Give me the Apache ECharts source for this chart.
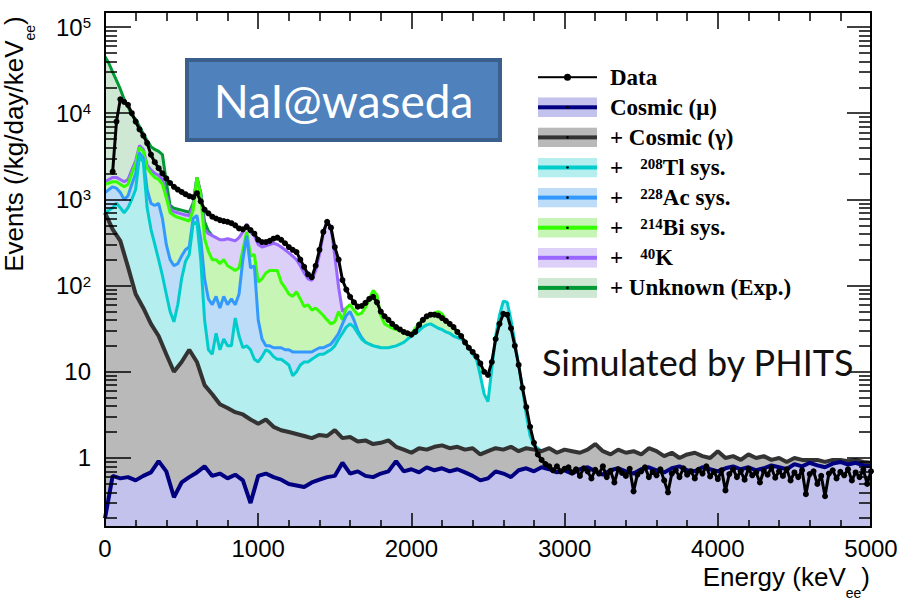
<!DOCTYPE html>
<html>
<head>
<meta charset="utf-8">
<title>NaI@waseda energy spectrum</title>
<script src="https://cdn.jsdelivr.net/npm/echarts@6.0.0/dist/echarts.min.js"></script>
<style>
html,body{margin:0;padding:0;background:#ffffff;}
#chart{width:899px;height:600px;}
</style>
</head>
<body>
<div id="chart"></div>
<script>
// ---------------- axes ----------------
const X_MIN = 0, X_MAX = 5000, X_INTERVAL = 1000;
const Y_MIN = 0.1583, Y_MAX = 149300;
const Y_MAJOR = [1, 10, 100, 1000, 10000, 100000];
const Y_MINOR = [0.2,0.3,0.4,0.5,0.6,0.7,0.8,0.9,
  2,3,4,5,6,7,8,9, 20,30,40,50,60,70,80,90,
  200,300,400,500,600,700,800,900, 2000,3000,4000,5000,6000,7000,8000,9000,
  20000,30000,40000,50000,60000,70000,80000,90000];

// ---------------- bins (keV) ----------------
const STEP_FINE = 25;     // bin width for data and the isotope stacks
const STEP_COARSE = 50;   // bin width for the cosmic stacks
const DATA_START = 50;

// ---------------- measured data (events /kg/day/keVee), 50..5000 keV step 25 ----------------
const dataVals = [
  2100,8000,14500,13500,12500,10000,8000,6500,5500,4500,3300,2700,
  2300,2000,1750,1550,1400,1300,1220,1150,1090,1060,1180,950,
  760,690,630,600,575,560,550,530,500,460,450,480,
  440,400,340,320,320,330,350,360,340,310,280,260,
  245,200,165,135,125,170,260,420,550,470,280,200,
  116,90,74,64,57,58,63,70,74,64,50,44,
  40,36,33,31,29,28,27,29,35,40,44,46,
  46,45,42,39,36,33,29,26,22,19,17,15,
  12.5,10,9.2,13,24,36,47,46,32,20,12,6.5,
  3.9,2.3,1.5,1.1,0.95,0.85,0.8,0.72,0.8,0.7,0.75,0.78,
  0.68,0.74,0.62,0.76,0.7,0.58,0.73,0.66,0.8,0.6,0.71,0.52,
  0.74,0.67,0.62,0.75,0.41,0.64,0.7,0.78,0.6,0.69,0.63,0.74,
  0.55,0.4,0.66,0.72,0.6,0.76,0.64,0.7,0.58,0.73,0.66,0.8,
  0.61,0.69,0.57,0.72,0.42,0.65,0.74,0.6,0.7,0.56,0.75,0.63,
  0.68,0.52,0.71,0.64,0.77,0.59,0.7,0.62,0.74,0.55,0.68,0.6,
  0.72,0.38,0.65,0.7,0.5,0.62,0.36,0.66,0.72,0.58,0.69,0.63,
  0.74,0.55,0.68,0.6,0.73,0.5,0.7
];

// ---------------- cumulative simulated stacks ----------------
// Cosmic (mu), 0..5000 keV step 50
const muSum = [
  0.2,0.62,0.58,0.6,0.55,0.62,0.68,0.92,0.7,0.35,0.52,0.6,
  0.68,0.8,0.62,0.66,0.58,0.64,0.55,0.3,0.62,0.66,0.6,0.56,
  0.5,0.48,0.46,0.52,0.56,0.6,0.62,0.88,0.66,0.7,0.62,0.6,
  0.66,0.7,0.92,0.7,0.74,0.68,0.78,0.72,0.76,0.7,0.74,0.68,
  0.62,0.55,0.58,0.7,0.66,0.6,0.72,0.76,0.7,0.78,0.74,0.68,
  0.72,0.66,0.74,0.78,0.7,0.64,0.72,0.76,0.7,0.66,0.74,0.78,
  0.72,0.68,0.76,0.8,0.72,0.7,0.78,0.74,0.7,0.76,0.8,0.74,
  0.78,0.72,0.76,0.82,0.78,0.74,0.85,0.8,0.88,0.82,0.78,0.86,
  0.9,0.84,0.88,0.82,0.8
];
// + Cosmic (gamma), 0..5000 keV step 50
const gammaSum = [
  700,450,330,165,80,55,36,26,16,10,13,18,
  13,7,5.5,4.2,3.8,3.4,3.2,2.8,2.5,2.8,2.3,2.1,
  2.0,1.9,1.8,1.7,1.85,1.8,2.1,1.7,1.75,1.55,1.6,1.45,
  1.5,1.6,1.35,1.25,1.15,1.3,1.25,1.35,1.4,1.3,1.35,1.25,
  1.3,1.1,1.2,1.3,1.25,1.35,1.2,1.3,1.25,1.2,1.3,1.15,
  1.25,1.2,1.15,1.25,1.45,1.2,1.1,1.25,1.15,1.2,1.1,1.3,
  1.2,1.05,1.15,1.0,1.1,1.15,1.05,1.0,1.2,1.0,1.05,0.95,
  1.1,1.0,1.05,0.95,1.0,0.9,1.0,0.95,0.95,0.95,0.9,0.95,
  0.95,0.92,0.95,0.9,0.88
];
// + 208Tl sys., 0..2850 keV step 25
const tlSum = [
  700,750,800,900,800,700,800,1000,1300,3200,2700,800,
  450,300,200,130,80,50,38,60,120,190,230,520,
  550,200,40,18,16,28,18,24,20,20,42,26,
  19,20,18,14,13,15,18,17,15,14,14,13,
  12,9,10,12,13,13,14,15,16,16,17,18,
  20,24,28,33,36,33,28,24,22,21,20,19.5,
  19,19,19,19.5,20,21,22,24,26,28,30,33,
  35,36,34,32,31,29,28,26,25,24,22,19,
  16,14,9,5.5,4.5,11,26,45,66,64,40,22,
  12,6.5,3.2,1.8,1.4,1.3,1.2
];
// + 228Ac sys., 0..1800 keV step 25
const acSum = [
  1200,1300,1400,1350,1200,1000,1100,1500,2000,3500,3000,1300,
  900,850,900,600,300,200,170,180,220,260,280,600,
  650,350,120,70,60,75,55,75,60,70,60,80,
  200,380,160,170,40,24,20,20,19,19,19,18,
  18,17,17,17,17,17,17,18,19,19,20,21,
  24,28,36,45,50,40,30,25,22,21,20,19.5,
  19
];
// + 214Bi sys., 0..2450 keV step 25
const biSum = [
  1500,1550,1600,1600,1500,1400,1500,2000,2600,4000,3600,2300,
  2000,1800,1700,1500,1050,700,650,620,600,580,560,750,
  1800,1100,350,250,200,200,180,200,170,160,150,160,
  260,420,220,230,110,120,140,150,150,150,110,95,
  80,75,85,70,57,60,52,55,50,45,40,36,
  38,50,40,55,60,52,46,48,56,70,88,78,
  45,36,34,32,31,30,29,28,27,32,37,40,
  43,45,48,50,47,40,36,33,29,26,22,19,
  17,14.5,9
];
// + 40K, 0..1575 keV step 25
const kSum = [
  1600,1700,1800,1800,1700,1600,1700,2200,2800,4200,3800,2500,
  2200,2000,1900,1700,1150,780,720,700,680,660,650,850,
  1800,1150,450,400,380,360,340,340,350,340,330,360,
  420,520,420,380,300,280,290,300,310,300,280,260,
  240,220,200,170,140,120,115,150,230,400,560,480,
  220,95,50,55
];
// + Unknown (Exp.), 0..700 keV step 25
const unkSum = [
  45000,38000,30000,24000,19000,14500,12000,9500,8500,7000,5800,4800,
  4100,3800,3600,3300,1600,850,790,770,750,730,710,900,
  1800,1200,550,430,380
];

// ---------------- names ----------------
const NAMES = {
  data: 'Data', mu: 'Cosmic (\u03bc)', gamma: '+ Cosmic (\u03b3)',
  tl: '+ 208Tl sys.', ac: '+ 228Ac sys.', bi: '+ 214Bi sys.',
  k: '+ 40K', unk: '+ Unknown (Exp.)'
};
const LEGEND_ORDER = ['data','mu','gamma','tl','ac','bi','k','unk'];

// ---------------- styles ----------------
const STYLE = {
  unk:   {line:'#009933', fill:'#cfe8d4', width:3},
  k:     {line:'#9966ff', fill:'#dcd0f8', width:3},
  bi:    {line:'#33ff00', fill:'#c6f5b6', width:3},
  ac:    {line:'#3399ff', fill:'#bcdcf8', width:3},
  tl:    {line:'#00cccc', fill:'#b4eeee', width:3},
  gamma: {line:'#333333', fill:'#b9b9b9', width:4},
  mu:    {line:'#000080', fill:'#c2c2ec', width:4}
};

function toPoints(vals, start, step) {
  return vals.map(function (v, i) { return [start + i * step, v]; });
}

function areaSeries(key, vals, step, z) {
  const s = STYLE[key];
  return {
    name: NAMES[key], type: 'line', xAxisIndex: 0, yAxisIndex: 0,
    data: toPoints(vals, 0, step), z: z,
    symbol: 'none', showSymbol: false,
    lineStyle: {color: s.line, width: s.width},
    itemStyle: {color: s.line},
    areaStyle: {color: s.fill, opacity: 1},
    emphasis: {disabled: true}, silent: true, animation: false
  };
}

function svgIcon(inner) {
  const svg = '<svg xmlns="http://www.w3.org/2000/svg" width="59" height="20">' + inner + '</svg>';
  return 'image://data:image/svg+xml;charset=utf-8,' + encodeURIComponent(svg);
}
function legendIcon(key) {
  if (key === 'data') {
    return svgIcon('<rect width="59" height="20" fill="#ffffff"/><rect x="0" y="9" width="59" height="2" fill="#000"/><circle cx="29.5" cy="10" r="3.5" fill="#000"/>');
  }
  const s = STYLE[key];
  return svgIcon('<rect width="59" height="20" fill="' + s.fill + '"/><rect x="0" y="8" width="59" height="4" fill="' + s.line + '"/><circle cx="29.5" cy="10" r="1.3" fill="#000"/>');
}
function legendLabel(name) {
  const m = name.match(/^\+ (\d+)(.*)$/);
  if (m) return '+   {sup|' + m[1] + '}' + m[2];
  return name;
}
function xLabel(v) { return String(v); }
function yLabel(v) {
  const n = Math.round(Math.log10(v));
  if (n === 0) return '1';
  if (n === 1) return '10';
  return '{b|10}{sup|' + n + '}';
}

const series = [
  areaSeries('unk', unkSum, STEP_FINE, 2),
  areaSeries('k', kSum, STEP_FINE, 3),
  areaSeries('bi', biSum, STEP_FINE, 4),
  areaSeries('ac', acSum, STEP_FINE, 5),
  areaSeries('tl', tlSum, STEP_FINE, 6),
  areaSeries('gamma', gammaSum, STEP_COARSE, 7),
  areaSeries('mu', muSum, STEP_COARSE, 8),
  {
    name: NAMES.data, type: 'line', xAxisIndex: 0, yAxisIndex: 0,
    data: toPoints(dataVals, DATA_START, STEP_FINE), z: 10,
    symbol: 'circle', symbolSize: 6, showSymbol: true,
    lineStyle: {color: '#000', width: 3}, itemStyle: {color: '#000'},
    emphasis: {disabled: true}, silent: true, animation: false
  }
];

const AX_LINE = {color: '#000', width: 2};
const TICK_LINE = {color: '#000', width: 1.5};
const LABEL_FONT = 'Liberation Sans';

function xAxisDef(pos, major, minor, labels) {
  return {
    type: 'value', position: pos, min: X_MIN, max: X_MAX, interval: X_INTERVAL, z: 20,
    axisLine: {show: true, onZero: false, lineStyle: AX_LINE},
    axisTick: {show: true, inside: true, length: major, lineStyle: TICK_LINE},
    minorTick: {show: true, splitNumber: 5, length: minor, lineStyle: TICK_LINE},
    axisLabel: labels ? {show: true, margin: 9, formatter: xLabel, fontFamily: LABEL_FONT, fontSize: 24, lineHeight: 24, color: '#000'} : {show: false},
    splitLine: {show: false}, minorSplitLine: {show: false}
  };
}
function yAxisDef(pos, values, len, showLine, labels) {
  return {
    type: 'log', logBase: 10, position: pos, min: Y_MIN, max: Y_MAX, z: 20,
    axisLine: {show: showLine, onZero: false, lineStyle: AX_LINE},
    axisTick: {show: true, inside: true, length: len, customValues: values, lineStyle: TICK_LINE},
    minorTick: {show: false},
    axisLabel: labels ? {
      show: true, customValues: Y_MAJOR, margin: 14, formatter: yLabel,
      fontFamily: LABEL_FONT, fontSize: 24, lineHeight: 26, color: '#000',
      rich: {
        b: {fontFamily: LABEL_FONT, fontSize: 24, lineHeight: 24, padding: [8, 0, 0, 0], verticalAlign: 'bottom', color: '#000'},
        sup: {fontFamily: LABEL_FONT, fontSize: 15, lineHeight: 15, verticalAlign: 'top', color: '#000'}
      }
    } : {show: false},
    splitLine: {show: false}, minorSplitLine: {show: false}
  };
}

const TITLE_RICH = {
  m: {fontFamily: LABEL_FONT, fontSize: 26, lineHeight: 26, verticalAlign: 'top', fill: '#000'},
  s: {fontFamily: LABEL_FONT, fontSize: 14, lineHeight: 36, verticalAlign: 'bottom', fill: '#000'}
};

const option = {
  animation: false,
  backgroundColor: '#ffffff',
  grid: {left: 105, right: 28, top: 12, bottom: 73, containLabel: false, outerBoundsMode: 'none'},
  xAxis: [xAxisDef('bottom', 14, 7, true), xAxisDef('top', 17, 9, false)],
  yAxis: [
    yAxisDef('left', Y_MAJOR, 26, true, true),
    yAxisDef('left', Y_MINOR, 12, false, false),
    yAxisDef('right', Y_MAJOR, 24, true, false),
    yAxisDef('right', Y_MINOR, 12, false, false)
  ],
  legend: {
    orient: 'vertical', left: 538, top: 65.7, padding: 0, itemWidth: 59, itemHeight: 20, itemGap: 7.1,
    selectedMode: false, z: 25,
    data: LEGEND_ORDER.map(function (k) { return {name: NAMES[k], icon: legendIcon(k)}; }),
    formatter: legendLabel,
    textStyle: {
      fontFamily: 'Liberation Serif', fontWeight: 'bold', fontSize: 23, lineHeight: 22, color: '#000',
      padding: [0, 0, 0, 8],
      rich: {sup: {fontFamily: 'Liberation Serif', fontWeight: 'bold', fontSize: 15, lineHeight: 14, verticalAlign: 'top', color: '#000'}}
    }
  },
  graphic: [
    {type: 'rect', z: 30, shape: {x: 187, y: 60, width: 313, height: 80},
     style: {fill: '#4f81bd', stroke: '#3b5f8d', lineWidth: 4}},
    {type: 'text', z: 31, x: 343.5, y: 100,
     style: {text: 'NaI@waseda', fill: '#ffffff', font: '46px Lato', align: 'center', verticalAlign: 'middle'}},
    {type: 'text', z: 31, x: 542, y: 362,
     style: {text: 'Simulated by PHITS', fill: '#111111', font: '36px Lato', align: 'left', verticalAlign: 'middle'}},
    {type: 'text', z: 31, x: 870, y: 564,
     style: {text: '{m|Energy (keV}{s|ee}{m|)}', align: 'right', verticalAlign: 'top', rich: TITLE_RICH}},
    {type: 'text', z: 31, x: 1, y: 144, rotation: Math.PI / 2,
     style: {text: '{m|Events (/kg/day/keV}{s|ee}{m|)}', align: 'center', verticalAlign: 'top', rich: TITLE_RICH}}
  ],
  series: series
};

const chart = echarts.init(document.getElementById('chart'), null, {renderer: 'svg'});
chart.setOption(option);
</script>
</body>
</html>
